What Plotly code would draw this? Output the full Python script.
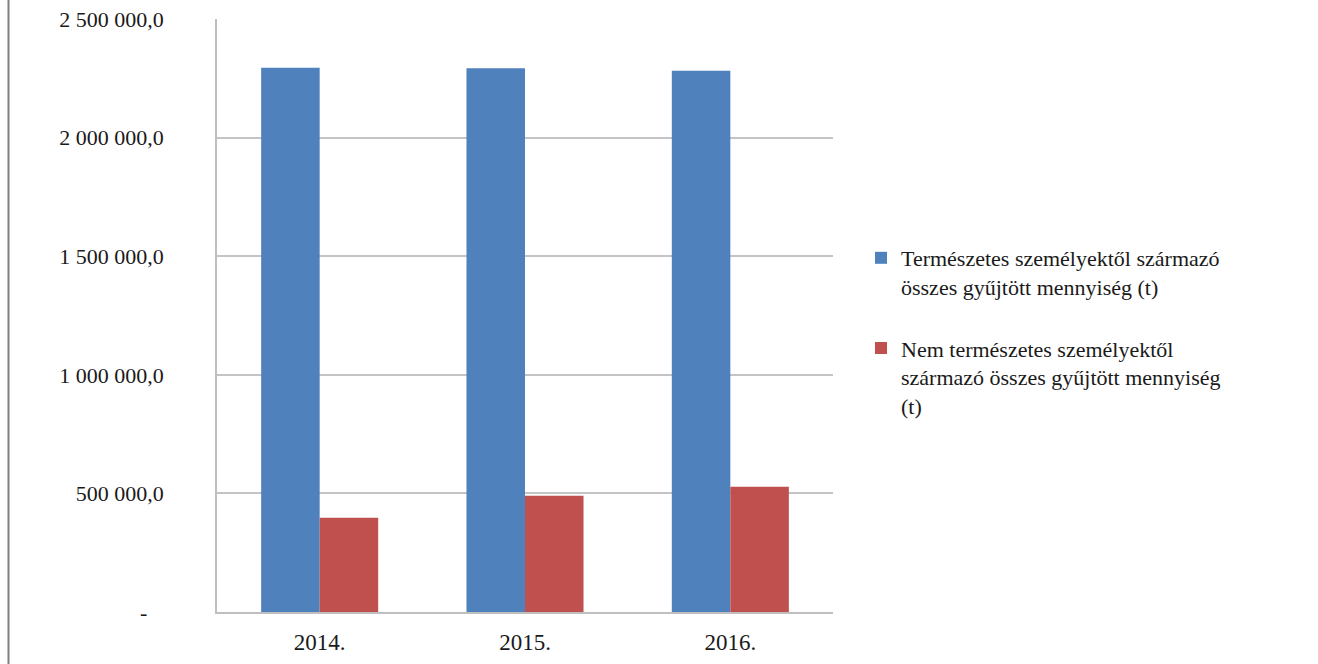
import plotly.graph_objects as go

years = ["2014.", "2015.", "2016."]
natural = [2294700, 2292200, 2282000]
non_natural = [397600, 490300, 528200]
series_names = [
    "Természetes személyektől származó<br>összes gyűjtött mennyiség (t)",
    "Nem természetes személyektől<br>származó összes gyűjtött mennyiség<br>(t)",
]
tick_vals = [0, 500000, 1000000, 1500000, 2000000, 2500000]


def fmt(v):
    if v == 0:
        return "-\u00a0\u00a0\u00a0"
    s = f"{v:,.1f}".replace(",", " ").replace(".", ",")
    return s


tick_text = [fmt(v) for v in tick_vals]

FONT = "Liberation Serif, DejaVu Serif, serif"
W, H = 1318, 664
L, R, T, B = 217, 1318 - 833, 19, 664 - 612

fig = go.Figure()
fig.add_trace(go.Bar(x=years, y=natural, name=series_names[0],
                     marker=dict(color="#4F81BD", line=dict(width=0)),
                     legendgroup="a"))
fig.add_trace(go.Bar(x=years, y=non_natural, name=series_names[1],
                     marker=dict(color="#C0504D", line=dict(width=0)),
                     legendgroup="b"))

fig.update_layout(
    width=W, height=H,
    margin=dict(l=L, r=R, t=T, b=B, pad=0, autoexpand=False),
    paper_bgcolor="white", plot_bgcolor="white",
    barmode="group", bargap=0.43, bargroupgap=0,
    font=dict(family=FONT, size=21, color="#1a1a1a"),
    showlegend=True,
    legend=dict(
        xref="container", yref="container",
        x=861 / W, y=1 - 237 / H, xanchor="left", yanchor="top",
        font=dict(family=FONT, size=22, color="#1a1a1a"),
        valign="top", tracegroupgap=30, traceorder="grouped",
        bgcolor="rgba(0,0,0,0)", borderwidth=0,
    ),
    xaxis=dict(
        showgrid=False, showline=True, linecolor="#BFBFBF", linewidth=1.5,
        ticks="", ticklabelstandoff=9, automargin=False,
        tickfont=dict(family=FONT, size=23, color="#1a1a1a"),
        fixedrange=True,
    ),
    yaxis=dict(
        range=[0, 2500000], tickvals=tick_vals, ticktext=tick_text,
        showgrid=True, gridcolor="#C4C4C4", gridwidth=1.5,
        showline=True, linecolor="#BFBFBF", linewidth=1.5,
        zeroline=False, ticks="", ticklabelstandoff=47, automargin=False,
        tickfont=dict(family=FONT, size=22, color="#1a1a1a"),
        fixedrange=True,
    ),
)

# left frame border of the chart area
lx = (8.5 - L) / (W - L - R)
fig.add_shape(type="line", xref="paper", yref="paper",
              x0=lx, x1=lx, y0=-B / (H - T - B), y1=1 + T / (H - T - B),
              line=dict(color="#808080", width=2))

fig.write_html(
    "out.html",
    config={"displayModeBar": False},
    post_script="document.body.style.margin='0';document.body.style.padding='0';",
)
